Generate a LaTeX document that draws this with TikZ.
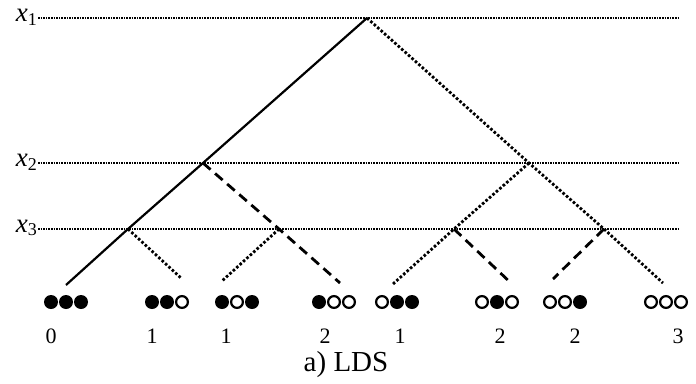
\documentclass[tikz,border=0pt]{standalone}
\usepackage{fontspec}
\setmainfont{Liberation Serif}
\begin{document}
\begin{tikzpicture}[x=1pt,y=-1pt,
  levelline/.style={line width=1.5pt, dash pattern=on 1.5pt off 1.1pt},
  dotline/.style={line width=2.8pt, dash pattern=on 2.6pt off 2pt},
  dashline/.style={line width=2.8pt, dash pattern=on 10pt off 6pt},
  solidline/.style={line width=2.2pt},
  fullc/.style={circle, fill=black, minimum size=14pt, inner sep=0pt},
  openc/.style={circle, draw=black, line width=2.2pt, fill=white, minimum size=11.8pt, inner sep=0pt},
  numlab/.style={font=\fontsize{22}{22}\selectfont, inner sep=0pt},
  levlab/.style={font=\fontsize{27}{27}\selectfont, inner sep=0pt, anchor=east}
]
\useasboundingbox (0,0) rectangle (696,383);
% level labels
\node[levlab] (l1) at (37,17) {\textit{x}\raisebox{-0.3ex}{\fontsize{18}{18}\selectfont 1}};
\node[levlab] (l2) at (37,162) {\textit{x}\raisebox{-0.3ex}{\fontsize{18}{18}\selectfont 2}};
\node[levlab] (l3) at (37,228) {\textit{x}\raisebox{-0.3ex}{\fontsize{18}{18}\selectfont 3}};
\coordinate (e1) at (680,18);
\coordinate (e2) at (680,163);
\coordinate (e3) at (680,229);
\coordinate (s1) at (38,18);
\coordinate (s2) at (38,163);
\coordinate (s3) at (38,229);
\draw[levelline] (s1) -- (e1);
\draw[levelline] (s2) -- (e2);
\draw[levelline] (s3) -- (e3);
% tree points
\coordinate (T) at (367,18);
\coordinate (A) at (203,163);
\coordinate (B) at (529,163);
\coordinate (C1) at (128,229);
\coordinate (C2) at (279,229);
\coordinate (C3) at (454,229);
\coordinate (C4) at (604,229);
\coordinate (L0) at (66,285);
\coordinate (L1) at (182,279);
\coordinate (L2) at (222,281);
\coordinate (L3) at (340,283);
\coordinate (L4) at (393,284);
\coordinate (L5) at (512,284);
\coordinate (L6) at (553,279);
\coordinate (L7) at (663,283);
% branches
\draw[solidline] (T) -- (A) -- (C1) -- (L0);
\draw[dotline] (T) -- (B) -- (C4) -- (L7);
\draw[dashline] (A) -- (C2) -- (L3);
\draw[dotline] (C1) -- (L1);
\draw[dotline] (C2) -- (L2);
\draw[dotline] (B) -- (C3) -- (L4);
\draw[dashline] (C3) -- (L5);
\draw[dashline] (C4) -- (L6);
% leaves
\foreach \cx/\a/\b/\c/\nx/\n [count=\i] in {
  66/fullc/fullc/fullc/51/0,
  167/fullc/fullc/openc/152/1,
  237/fullc/openc/fullc/226/1,
  334/fullc/openc/openc/325/2,
  397/openc/fullc/fullc/400/1,
  497/openc/fullc/openc/500/2,
  565/openc/openc/fullc/575/2,
  666/openc/openc/openc/678/3}{
  \node[\a] (g\i a) at (\cx-15,302) {};
  \node[\b] (g\i b) at (\cx,302) {};
  \node[\c] (g\i c) at (\cx+15,302) {};
  \node[numlab] (n\i) at (\nx,336) {\n};
}
\node[font=\fontsize{29}{29}\selectfont, inner sep=0pt] (cap) at (346,365) {a) LDS};
\end{tikzpicture}
\end{document}
